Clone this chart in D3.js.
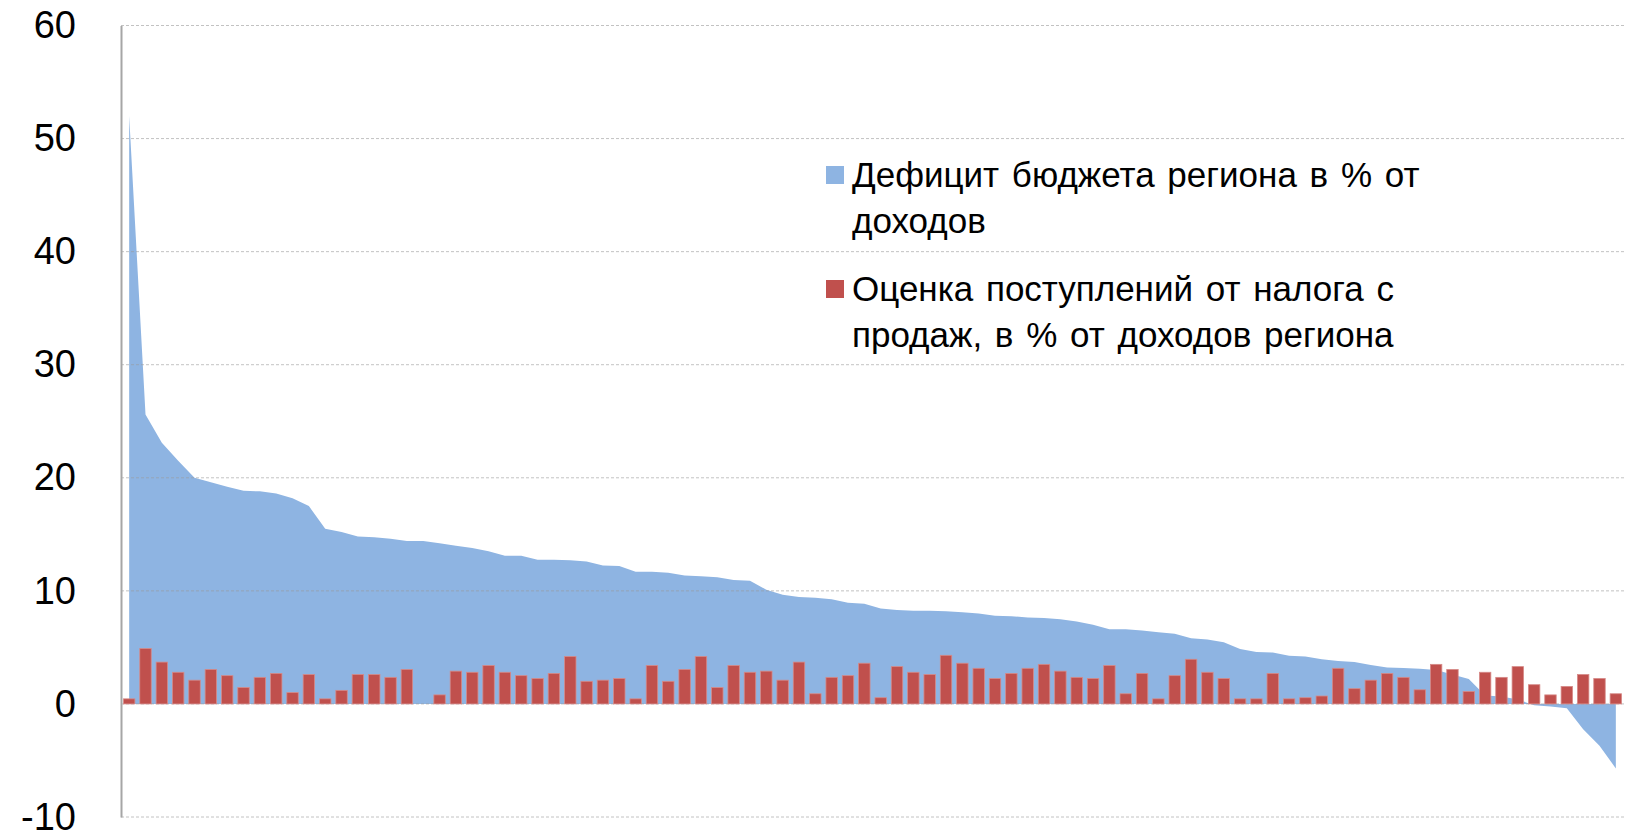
<!DOCTYPE html>
<html>
<head>
<meta charset="utf-8">
<script src="https://cdn.jsdelivr.net/npm/d3@7"></script>
<style>
  body { margin: 0; background: #fff; }
  svg { display: block; font-family: "Liberation Sans", Arial, sans-serif; }
</style>
</head>
<body>
<svg id="chart"></svg>
<script>
// regions, sorted by budget deficit (no names on the axis)
const regions = d3.range(1, 93);

// budget deficit, % of revenue (area)
const deficit = [
  52, 25.6, 23.1, 21.5, 20.0, 19.6, 19.2, 18.85, 18.8, 18.6,
  18.2, 17.5, 15.5, 15.2, 14.8, 14.75, 14.6, 14.4, 14.4, 14.2,
  14.0, 13.8, 13.5, 13.1, 13.1, 12.75, 12.75, 12.7, 12.6, 12.25,
  12.2, 11.7, 11.7, 11.6, 11.35, 11.3, 11.2, 10.95, 10.9, 10.1,
  9.65, 9.45, 9.4, 9.25, 8.95, 8.85, 8.45, 8.3, 8.25, 8.25,
  8.2, 8.1, 8.0, 7.8, 7.75, 7.65, 7.6, 7.5, 7.3, 7.0,
  6.6, 6.6, 6.5, 6.35, 6.2, 5.8, 5.7, 5.45, 4.85, 4.6,
  4.55, 4.25, 4.2, 3.95, 3.8, 3.7, 3.45, 3.22, 3.18, 3.12,
  3.0, 2.6, 2.2, 0.75, 0.65, 0.4, -0.12, -0.22, -0.38, -2.25,
  -3.7, -5.7
];

// estimated sales tax revenue, % of regional revenue (bars)
const salesTax = [
  0.45, 4.9, 3.7, 2.8, 2.1, 3.05, 2.5, 1.45, 2.35, 2.7,
  1.0, 2.6, 0.45, 1.2, 2.6, 2.6, 2.35, 3.05, 0, 0.8,
  2.9, 2.8, 3.4, 2.8, 2.5, 2.25, 2.7, 4.2, 2.0, 2.1,
  2.25, 0.45, 3.4, 2.0, 3.05, 4.2, 1.45, 3.4, 2.8, 2.9,
  2.1, 3.7, 0.9, 2.35, 2.5, 3.6, 0.55, 3.3, 2.8, 2.6,
  4.3, 3.6, 3.15, 2.25, 2.7, 3.15, 3.5, 2.9, 2.35, 2.25,
  3.4, 0.9, 2.7, 0.45, 2.5, 3.95, 2.8, 2.25, 0.45, 0.45,
  2.7, 0.45, 0.55, 0.7, 3.15, 1.35, 2.1, 2.7, 2.35, 1.25,
  3.5, 3.05, 1.1, 2.8, 2.35, 3.3, 1.7, 0.8, 1.55, 2.6,
  2.25, 0.9
];

const yTicks = [-10, 0, 10, 20, 30, 40, 50, 60];

const legendItems = [
  { lines: ["Дефицит бюджета региона в % от", "доходов"], color: "#8eb4e2" },
  { lines: ["Оценка поступлений от налога с", "продаж, в % от доходов региона"], color: "#c0504d" }
];

const width = 1626, height = 835;
const svg = d3.select("#chart").attr("width", width).attr("height", height);

const x = d3.scaleBand().domain(regions).range([121, 1624]).paddingInner(0.3).paddingOuter(0.15);
const y = d3.scaleLinear().domain([-10, 60]).range([817, 25.5]);

const rows = regions.map((r, i) => ({ region: r, deficit: deficit[i], tax: salesTax[i] }));

// deficit area, points at category centres
const area = d3.area()
  .x(d => x(d.region) + x.bandwidth() / 2)
  .y0(y(0))
  .y1(d => y(d.deficit));

svg.append("path")
  .datum(rows)
  .attr("d", area)
  .attr("fill", "#8eb4e2");

// gridlines (drawn over the area, they show through it)
svg.append("g")
  .selectAll("line")
  .data(yTicks)
  .join("line")
  .attr("x1", 121)
  .attr("x2", width)
  .attr("y1", d => y(d))
  .attr("y2", d => y(d))
  .attr("stroke", "#9a9a9a")
  .attr("stroke-opacity", 0.6)
  .attr("stroke-dasharray", "3,2")
  .attr("stroke-width", 1);

// sales tax bars
svg.append("g")
  .selectAll("rect")
  .data(rows.filter(d => d.tax > 0))
  .join("rect")
  .attr("x", d => x(d.region))
  .attr("y", d => y(d.tax))
  .attr("width", x.bandwidth())
  .attr("height", d => y(0) - y(d.tax))
  .attr("fill", "#c0504d")
  .attr("stroke", "#d68a88")
  .attr("stroke-width", 0.8);

// value axis
const yAxis = svg.append("g")
  .attr("transform", "translate(121,0)")
  .call(d3.axisLeft(y).tickValues(yTicks).tickSize(0).tickPadding(45).tickFormat(d => String(d)));

yAxis.select(".domain")
  .attr("stroke", "#a6a6a6")
  .attr("stroke-width", 2);

yAxis.selectAll("text")
  .attr("font-size", 38)
  .attr("fill", "#000")
  .attr("font-family", "Liberation Sans, Arial, sans-serif");

// legend
const legend = svg.append("g").attr("transform", "translate(826,0)");
const legendTop = [175, 289];

legendItems.forEach((item, i) => {
  const g = legend.append("g").attr("transform", `translate(0,${legendTop[i]})`);
  g.append("rect")
    .attr("x", 0)
    .attr("y", -9)
    .attr("width", 18)
    .attr("height", 18)
    .attr("fill", item.color);
  g.selectAll("text")
    .data(item.lines)
    .join("text")
    .attr("x", 26)
    .attr("y", (d, k) => k * 46)
    .attr("dy", "0.35em")
    .attr("font-size", 35)
    .attr("word-spacing", 3)
    .attr("fill", "#000")
    .text(d => d);
});
</script>
</body>
</html>
